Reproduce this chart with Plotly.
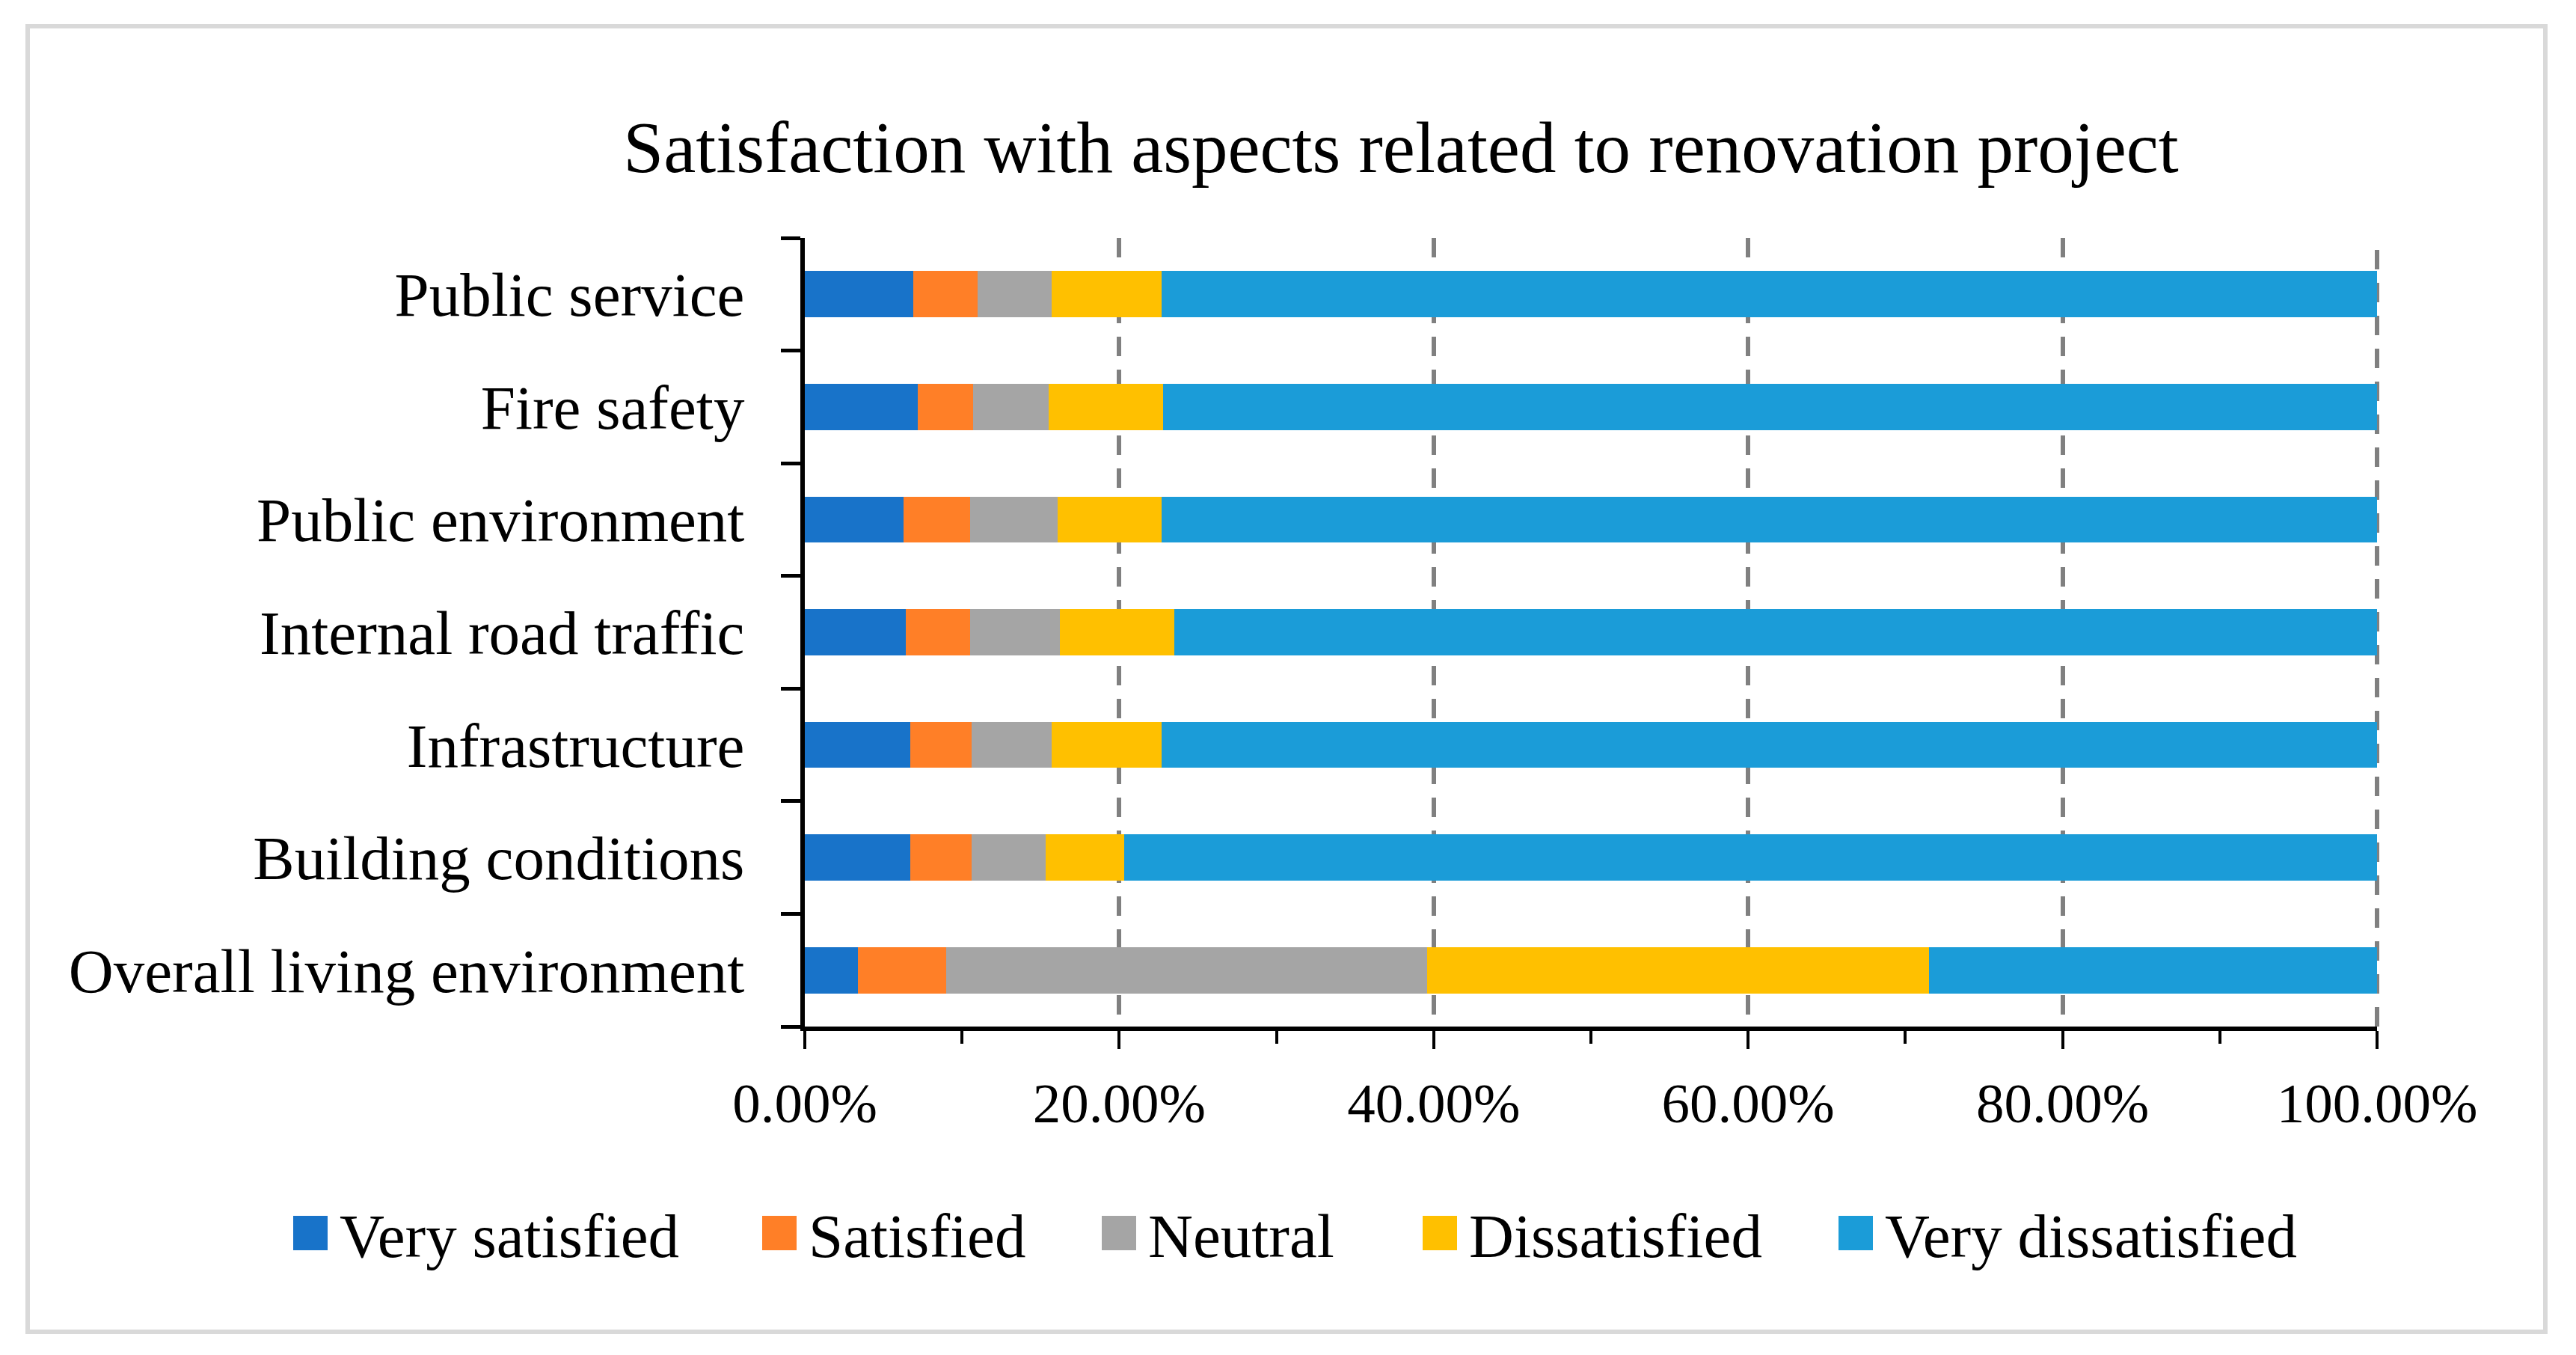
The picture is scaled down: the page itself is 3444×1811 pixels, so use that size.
import plotly.graph_objects as go

# ---------------- data ----------------
categories = ["Overall living environment", "Building conditions", "Infrastructure",
              "Internal road traffic", "Public environment", "Fire safety", "Public service"]
series_names = ["Very satisfied", "Satisfied", "Neutral", "Dissatisfied", "Very dissatisfied"]
very_satisfied = [3.4, 6.7, 6.7, 6.4, 6.3, 7.2, 6.9]
satisfied = [5.6, 3.9, 3.9, 4.1, 4.2, 3.5, 4.1]
neutral = [30.6, 4.7, 5.1, 5.7, 5.6, 4.8, 4.7]
dissatisfied = [31.9, 5.0, 7.0, 7.3, 6.6, 7.3, 7.0]
very_dissatisfied = [28.5, 79.7, 77.3, 76.5, 77.3, 77.2, 77.3]
x_tick_values = [0, 0.2, 0.4, 0.6, 0.8, 1.0]
x_minor_values = [0.1, 0.3, 0.5, 0.7, 0.9]
title_text = "Satisfaction with aspects related to renovation project"
colors = ["#1873C9", "#FF7F27", "#A5A5A5", "#FFC000", "#1B9CD8"]

series_values = [very_satisfied, satisfied, neutral, dissatisfied, very_dissatisfied]

# ---------------- layout geometry (screen pixels) ----------------
OFF = 8                      # default body margin of the html page
W, H = 3444 - 2 * OFF, 1811 - 2 * OFF
L, R, T, B = 1076, 3178, 318, 1372   # plot area in screen pixels
PW, PH = R - L, B - T
FONT = "Liberation Serif"
GRID_COLOR, GRID_WIDTH, GRID_DASH = "#808080", 6, "26px,18px"


def px(x):
    return (x - L) / PW


def py(y):
    return (B - y) / PH


fig = go.Figure()
for name, vals, col in zip(series_names, series_values, colors):
    fig.add_trace(go.Bar(
        y=categories, x=[v / 100 for v in vals], name=name, orientation="h",
        marker=dict(color=col, line=dict(width=0)), showlegend=False,
    ))

shapes = []
annotations = []
# outer border
shapes.append(dict(type="rect", xref="paper", yref="paper",
                   x0=px(37), x1=px(3403), y0=py(1780), y1=py(35),
                   line=dict(color="#D9D9D9", width=6), fillcolor="rgba(0,0,0,0)",
                   layer="below"))
# gridline at the right end of the value axis (plotly hides grid lines on the plot edge)
shapes.append(dict(type="line", xref="paper", yref="paper",
                   x0=1, x1=1, y0=0, y1=1,
                   line=dict(color=GRID_COLOR, width=GRID_WIDTH, dash=GRID_DASH),
                   layer="below"))

# manual legend (large square keys like the original)
legend_left = [392, 1019, 1473, 1902, 2458]
legend_cy = 1648
sq = 46
for name, col, lx in zip(series_names, colors, legend_left):
    shapes.append(dict(type="rect", xref="paper", yref="paper",
                       x0=px(lx), x1=px(lx + sq), y0=py(legend_cy + sq / 2), y1=py(legend_cy - sq / 2),
                       line=dict(width=0), fillcolor=col))
    annotations.append(dict(xref="paper", yref="paper", x=px(lx + sq + 14), y=py(legend_cy + 4),
                            text=name, showarrow=False, xanchor="left", yanchor="middle",
                            font=dict(family=FONT, size=83, color="black")))

fig.update_layout(
    width=W, height=H,
    margin=dict(l=L - OFF, r=W - (R - OFF), t=T - OFF, b=H - (B - OFF), autoexpand=False),
    paper_bgcolor="white", plot_bgcolor="white",
    barmode="stack", bargap=0.59,
    title=dict(text=title_text, x=(1873 - OFF) / W, xref="container", xanchor="center",
               y=1 - (196 - OFF) / H, yref="container", yanchor="middle",
               font=dict(family=FONT, size=97, color="black")),
    shapes=shapes, annotations=annotations,
    showlegend=False,
)

fig.update_xaxes(
    range=[0, 1], tickmode="array", tickvals=x_tick_values, tickformat=".2%",
    showgrid=True, gridcolor=GRID_COLOR, gridwidth=GRID_WIDTH, griddash=GRID_DASH,
    zeroline=False, showline=True, linecolor="black", linewidth=6,
    ticks="outside", ticklen=24, tickwidth=4, tickcolor="black",
    minor=dict(tickmode="array", tickvals=x_minor_values, ticks="outside",
               ticklen=17, tickwidth=4, tickcolor="black", showgrid=False),
    tickfont=dict(family=FONT, size=75, color="black"),
    ticklabelstandoff=8, automargin=False, fixedrange=True,
)
fig.update_yaxes(
    type="category", categoryorder="array", categoryarray=categories,
    range=[-0.5, len(categories) - 0.5], tickson="boundaries",
    showgrid=False, zeroline=False, showline=True, linecolor="black", linewidth=6,
    ticks="outside", ticklen=26, tickwidth=5, tickcolor="black",
    tickfont=dict(family=FONT, size=83, color="black"),
    ticklabelstandoff=58, automargin=False, fixedrange=True,
)

fig.write_html("out.html")
